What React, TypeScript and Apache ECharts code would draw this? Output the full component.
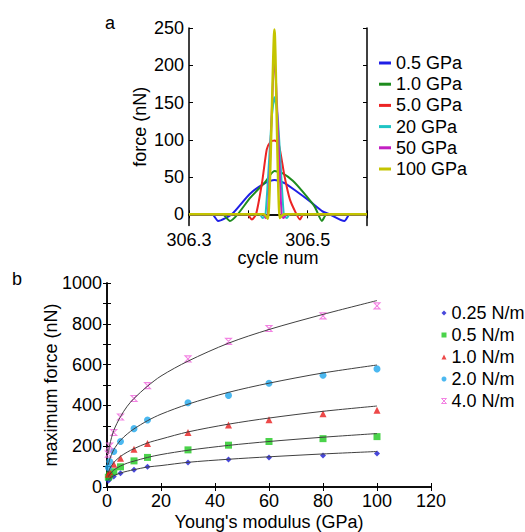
import React, { useEffect, useRef } from "react";
import * as echarts from "echarts";

// ---------- panel a: force vs cycle num ----------
const forceNames = ["0.5 GPa", "1.0 GPa", "5.0 GPa", "20 GPa", "50 GPa", "100 GPa"];
const forceColors = ["#1f1fe6", "#1e8c1e", "#ec2424", "#1fc4c4", "#c21fc2", "#c4c400"];
const force05: [number, number][] = [
  [306.3, 0], [306.339, 0], [306.349, -9], [306.372, 0], [306.402, 27], [306.428, 42],
  [306.444, 46], [306.461, 42], [306.481, 31], [306.503, 18], [306.525, 4], [306.537, 0],
  [306.562, -9], [306.571, 0], [306.6, 0],
];
const force10: [number, number][] = [
  [306.3, 0], [306.356, 0], [306.369, -9], [306.382, 0], [306.403, 22], [306.428, 43],
  [306.444, 58], [306.458, 55], [306.475, 45], [306.492, 30], [306.512, 10], [306.524, -9],
  [306.532, 0], [306.6, 0],
];
const force50: [number, number][] = [
  [306.3, 0], [306.398, 0], [306.406, -7], [306.413, 0], [306.423, 42], [306.431, 87],
  [306.437, 97], [306.444, 99], [306.451, 95], [306.461, 51], [306.470, 20], [306.480, 2],
  [306.487, -7], [306.493, 0], [306.6, 0],
];
const force20: [number, number][] = [
  [306.3, 0], [306.419, 0], [306.424, -5], [306.429, 0], [306.4395, 130], [306.444, 157],
  [306.4496, 130], [306.4597, 0], [306.465, -5], [306.470, 0], [306.6, 0],
];
const force500: [number, number][] = [
  [306.3, 0], [306.426, 0], [306.429, -5], [306.433, 0], [306.444, 208], [306.456, 0],
  [306.459, -5], [306.465, 0], [306.6, 0],
];
const force100: [number, number][] = [
  [306.3, 0], [306.426, 0], [306.433, -6], [306.444, 248], [306.453, -5], [306.460, 0],
  [306.6, 0],
];
const forceSeries = [force05, force10, force50, force20, force500, force100];
const forceYTicks = [0, 50, 100, 150, 200, 250];
const cycleTicks = [306.3, 306.4, 306.5, 306.6];
const cycleLabels = [306.3, 306.5];

// ---------- panel b: maximum force vs Young's modulus ----------
const modulus = [0.5, 1, 2.5, 5, 10, 15, 30, 45, 60, 80, 100];
const springNames = ["0.25 N/m", "0.5 N/m", "1.0 N/m", "2.0 N/m", "4.0 N/m"];
const springColors = ["#1a1ad2", "#1ec81e", "#e81c1c", "#1ea6ec", "#f064dc"];
const max025 = [31, 39, 52, 67, 84, 99, 120, 135, 145, 155, 164];
const max05 = [48, 59, 75, 99, 128, 145, 182, 205, 223, 237, 247];
const max10 = [63, 75, 112, 141, 185, 213, 267, 304, 330, 359, 376];
const max20 = [95, 125, 174, 223, 286, 328, 413, 449, 509, 548, 579];
const max40 = [161, 201, 267, 343, 434, 497, 628, 714, 777, 839, 888];
const maxSeries = [max025, max05, max10, max20, max40];

const fitModulus = [0.5, 1, 2.5, 5, 7.5, 10, 15, 20, 30, 45, 60, 80, 100];
const fit025 = [33.5, 41.5, 55, 68.5, 77.5, 85, 98, 105, 121, 136, 148, 162, 174];
const fit05 = [50, 62, 83, 103, 117, 127, 145, 159, 180, 204, 223, 244, 262];
const fit10 = [71, 89, 120, 150, 171, 188, 216, 235, 270, 308, 338, 371, 397];
const fit20 = [109, 136, 183, 229, 260, 285, 325, 357, 406, 464, 509, 559, 598];
const fit40 = [164, 206, 277, 345, 396, 434, 494, 544, 617, 705, 772, 846, 914];
const fitSeries = [fit025, fit05, fit10, fit20, fit40];

const FONT = "'Liberation Sans', Arial, sans-serif";
const hourglass = "path://M0,0L10,0L0,10L10,10Z";
const springSymbols = ["diamond", "rect", "triangle", "circle", hourglass];
const springSizes = [6, 7, 7, 7, 6];

export default function App() {
  const ref = useRef<HTMLDivElement>(null);
  useEffect(() => {
    if (!ref.current) return;
    const chart = echarts.init(ref.current, undefined, { renderer: "svg" });
    const axisLine = { show: true, lineStyle: { color: "#000", width: 1.5 } };
    const lbl = { color: "#000", fontSize: 18, fontFamily: FONT };
    const tickIn = { show: true, inside: true, length: 4, lineStyle: { color: "#000", width: 1 } };

    const series: any[] = [];
    forceSeries.forEach((d, i) => {
      series.push({
        name: forceNames[i],
        type: "line",
        xAxisIndex: 0,
        yAxisIndex: 0,
        data: d,
        showSymbol: false,
        smooth: 0.2,
        lineStyle: { color: forceColors[i], width: i === 5 ? 2.5 : 2 },
        itemStyle: { color: forceColors[i] },
        clip: true,
      });
    });
    fitSeries.forEach((d, i) => {
      series.push({
        name: "fit " + springNames[i],
        type: "line",
        xAxisIndex: 2,
        yAxisIndex: 2,
        data: fitModulus.map((x, j) => [x, d[j]]),
        showSymbol: false,
        smooth: 0.3,
        lineStyle: { color: "#404040", width: 1 },
        itemStyle: { color: "#404040" },
        silent: true,
      });
    });
    maxSeries.forEach((d, i) => {
      const isX = i === 4;
      series.push({
        name: springNames[i],
        type: "scatter",
        xAxisIndex: 2,
        yAxisIndex: 2,
        data: modulus.map((x, j) => [x, d[j]]),
        symbol: springSymbols[i],
        symbolSize: springSizes[i],
        itemStyle: isX
          ? { color: "rgba(0,0,0,0)", borderColor: springColors[i], borderWidth: 1.1 }
          : { color: springColors[i] },
      });
    });

    chart.setOption({
      animation: false,
      backgroundColor: "#fff",
      textStyle: { fontFamily: FONT },
      grid: [
        { left: 189, top: 28, width: 178, height: 197.5 },
        { left: 107, top: 283, width: 324, height: 204 },
      ],
      xAxis: [
        {
          type: "value", gridIndex: 0, position: "bottom", min: 306.3, max: 306.6,
          axisLine, splitLine: { show: false },
          axisTick: { ...tickIn, customValues: cycleTicks },
          axisLabel: { ...lbl, margin: 5, customValues: cycleLabels, formatter: (v: number) => v.toFixed(1) },
          name: "cycle num", nameLocation: "middle", nameGap: 22,
          nameTextStyle: { ...lbl },
        },
        {
          type: "value", gridIndex: 0, position: "top", min: 306.3, max: 306.6,
          axisLine, splitLine: { show: false },
          axisTick: { ...tickIn, customValues: cycleTicks },
          axisLabel: { show: false },
        },
        {
          type: "value", gridIndex: 1, position: "bottom", min: 0, max: 120, interval: 20,
          axisLine, splitLine: { show: false }, axisTick: tickIn,
          axisLabel: { ...lbl, margin: 5 },
          name: "Young's modulus (GPa)", nameLocation: "middle", nameGap: 26,
          nameTextStyle: { ...lbl },
        },
        {
          type: "value", gridIndex: 1, position: "top", min: 0, max: 120, interval: 20,
          axisLine, splitLine: { show: false }, axisTick: tickIn, axisLabel: { show: false },
        },
      ],
      yAxis: [
        {
          type: "value", gridIndex: 0, position: "left", min: -15, max: 250,
          axisLine, splitLine: { show: false },
          axisTick: { ...tickIn, customValues: forceYTicks },
          axisLabel: { ...lbl, margin: 5, customValues: forceYTicks },
          name: "force (nN)", nameLocation: "middle", nameGap: 40, nameRotate: 90,
          nameTextStyle: { ...lbl },
        },
        {
          type: "value", gridIndex: 0, position: "right", min: -15, max: 250,
          axisLine, splitLine: { show: false },
          axisTick: { ...tickIn, customValues: forceYTicks },
          axisLabel: { show: false },
        },
        {
          type: "value", gridIndex: 1, position: "left", min: 0, max: 1000, interval: 100,
          axisLine, splitLine: { show: false }, axisTick: tickIn,
          axisLabel: { ...lbl, margin: 5, formatter: (v: number) => (v % 200 === 0 ? String(v) : "") },
          name: "maximum force (nN)", nameLocation: "middle", nameGap: 47, nameRotate: 90,
          nameMoveOverlap: false,
          nameTextStyle: { ...lbl },
        },
        {
          type: "value", gridIndex: 1, position: "right", min: 0, max: 1000, interval: 100,
          axisLine, splitLine: { show: false }, axisTick: tickIn, axisLabel: { show: false },
        },
      ],
      legend: [
        {
          orient: "vertical", left: 374, top: 49, itemGap: 3.2,
          itemWidth: 12, itemHeight: 3, icon: "rect",
          textStyle: { ...lbl, lineHeight: 18 },
          data: forceNames,
          selectedMode: false,
        },
        {
          orient: "vertical", left: 436, top: 299, itemGap: 4,
          itemWidth: 5, itemHeight: 5,
          textStyle: { ...lbl, lineHeight: 18 },
          data: springNames.map((n, i) => ({
            name: n,
            icon: springSymbols[i],
            itemStyle: i === 4 ? { borderWidth: 1 } : undefined,
          })),
          selectedMode: false,
        },
      ],
      graphic: [
        { type: "text", left: 105, top: 14, style: { text: "a", fontSize: 18, fontFamily: FONT, fill: "#000" } },
        { type: "text", left: 12, top: 270, style: { text: "b", fontSize: 18, fontFamily: FONT, fill: "#000" } },
      ],
      series,
    });
    return () => chart.dispose();
  }, []);
  return (
    <div
      ref={ref}
      style={{ position: "absolute", left: 0, top: 0, width: 525, height: 532, background: "#fff" }}
    />
  );
}
